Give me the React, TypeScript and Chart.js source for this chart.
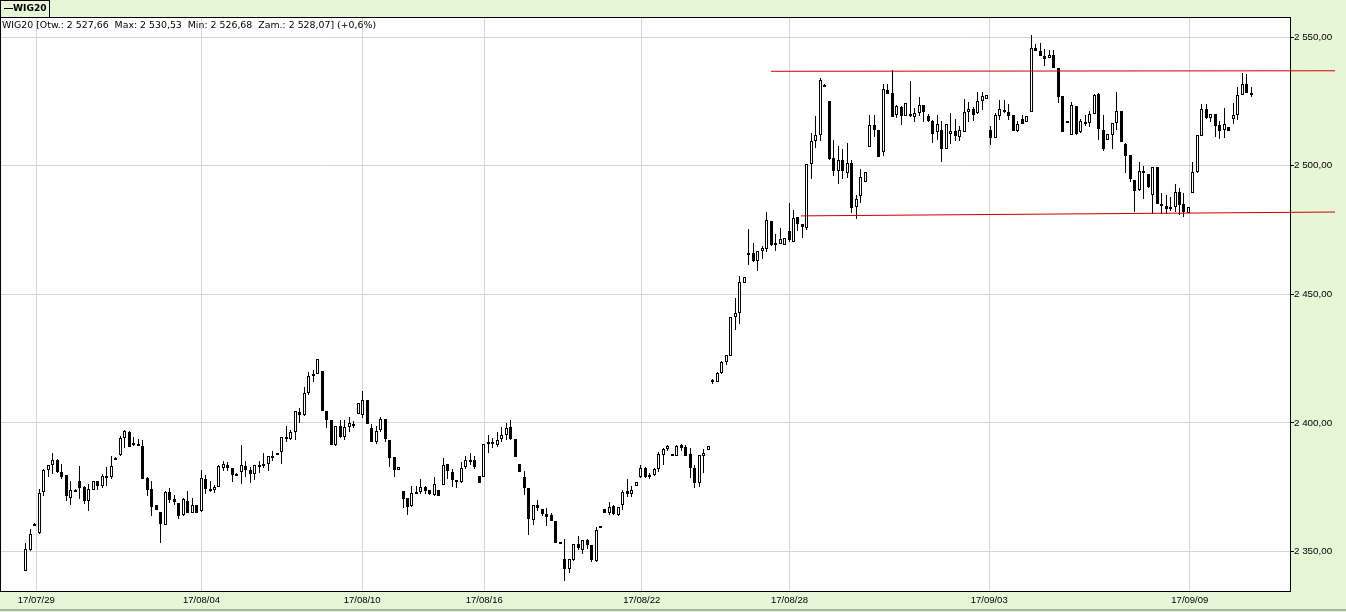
import React, { useEffect, useRef } from "react";
import { Chart, registerables } from "chart.js";

Chart.register(...registerables);

// ---- data (hourly candles, WIG20) ----
const openPrices = [
  2342.5, 2350.8, 2360.9, 2357.1, 2373.3, 2381.8, 2383.7, 2385.8, 2381.1, 2379.6,
  2370.9, 2374.1, 2377.3, 2375.1, 2369.6, 2374.0, 2377.3, 2375.5, 2379.5, 2379.0,
  2386.5, 2387.6, 2394.2, 2396.5, 2391.3, 2392.0, 2391.1, 2378.6, 2374.2, 2368.0,
  2365.5, 2360.5, 2373.3, 2370.3, 2369.0, 2364.2, 2369.8, 2365.2, 2368.0, 2365.6,
  2378.4, 2374.5, 2373.9, 2375.1, 2382.6, 2383.7, 2382.4, 2380.3, 2380.9, 2383.2,
  2381.8, 2380.2, 2383.2, 2383.6, 2384.1, 2387.3, 2388.3, 2388.9, 2394.5, 2393.9,
  2396.4, 2404.1, 2403.2, 2411.5, 2419.0, 2419.0, 2420.2, 2404.6, 2401.2, 2391.3,
  2398.8, 2394.4, 2398.4, 2399.6, 2403.6, 2403.1, 2409.0, 2398.2, 2392.5, 2397.2,
  2401.6, 2393.2, 2386.8, 2381.6, 2373.6, 2370.7, 2367.7, 2372.9, 2373.3, 2375.2,
  2373.8, 2372.0, 2373.8, 2375.8, 2384.1, 2381.0, 2378.0, 2377.0, 2382.8, 2385.4,
  2385.7, 2379.5, 2378.9, 2391.9, 2392.5, 2391.6, 2393.8, 2395.5, 2398.6, 2393.8,
  2384.1, 2379.2, 2374.8, 2362.4, 2368.2, 2366.7, 2364.7, 2364.1, 2362.1, 2353.6,
  2347.0, 2343.3, 2346.6, 2352.8, 2350.5, 2354.4, 2352.6, 2346.4, 2359.0, 2366.4,
  2365.1, 2367.8, 2364.3, 2368.0, 2373.4, 2372.5, 2375.6, 2378.9, 2382.6, 2379.8,
  2379.8, 2382.2, 2387.6, 2389.8, 2387.8, 2387.0, 2391.3, 2390.5, 2388.1, 2382.5,
  2376.7, 2387.3, 2389.4, 2416.6, 2415.8, 2419.3, 2423.8, 2426.2, 2441.1, 2442.9,
  2454.3, 2466.2, 2466.1, 2463.0, 2466.7, 2467.6, 2478.5, 2469.8, 2469.7, 2469.3,
  2474.5, 2470.5, 2480.0, 2477.5, 2475.9, 2500.6, 2509.6, 2511.9, 2531.5, 2525.3,
  2503.1, 2497.9, 2502.3, 2497.3, 2501.2, 2483.9, 2488.3, 2493.8, 2507.3, 2516.0,
  2513.7, 2505.3, 2529.4, 2528.1, 2519.6, 2522.8, 2519.3, 2520.1, 2519.1, 2520.6,
  2523.6, 2519.3, 2517.5, 2513.1, 2513.9, 2506.6, 2512.4, 2513.3, 2511.2, 2513.1,
  2520.9, 2522.0, 2520.5, 2525.1, 2526.0, 2513.7, 2510.8, 2519.3, 2521.6, 2521.0,
  2519.7, 2513.5, 2518.2, 2517.0, 2520.9, 2545.6, 2544.5, 2542.5, 2541.8, 2542.9,
  2537.9, 2527.2, 2516.6, 2512.0, 2523.2, 2513.0, 2517.1, 2516.6, 2520.1, 2527.8,
  2513.9, 2510.0, 2512.0, 2516.6, 2521.3, 2508.5, 2504.3, 2494.6, 2490.7, 2497.8,
  2496.9, 2488.7, 2499.6, 2485.1, 2484.5, 2483.8, 2483.9, 2489.7, 2485.3, 2481.6,
  2489.4, 2497.6, 2511.5, 2522.0, 2518.6, 2520.1, 2515.9, 2513.7, 2515.1, 2518.0,
  2519.7, 2527.4, 2531.8, 2527.66,
];

const highPrices = [
  2353.5, 2358.9, 2361.0, 2374.5, 2382.0, 2383.6, 2388.5, 2386.0, 2383.9, 2379.6,
  2377.3, 2374.2, 2383.1, 2375.5, 2376.4, 2377.6, 2377.6, 2380.0, 2382.8, 2387.2,
  2386.6, 2395.0, 2397.4, 2397.0, 2394.6, 2393.9, 2393.4, 2378.9, 2377.3, 2368.0,
  2365.5, 2373.6, 2374.9, 2372.1, 2369.0, 2370.7, 2373.6, 2370.7, 2368.0, 2381.9,
  2379.9, 2377.3, 2375.8, 2383.5, 2385.4, 2384.8, 2382.4, 2380.4, 2391.4, 2385.3,
  2383.0, 2383.7, 2385.3, 2388.5, 2387.2, 2389.2, 2388.4, 2394.5, 2398.8, 2397.1,
  2404.5, 2406.0, 2414.0, 2419.8, 2420.5, 2424.8, 2420.2, 2404.6, 2401.2, 2398.8,
  2401.2, 2401.2, 2402.3, 2400.6, 2407.9, 2412.5, 2409.0, 2399.7, 2398.8, 2402.3,
  2401.6, 2393.2, 2386.8, 2382.8, 2373.6, 2370.7, 2375.6, 2375.6, 2378.4, 2375.6,
  2374.0, 2379.1, 2373.8, 2386.4, 2384.1, 2382.2, 2378.0, 2385.0, 2387.1, 2388.5,
  2387.1, 2379.5, 2392.0, 2395.3, 2394.1, 2396.5, 2398.6, 2399.9, 2401.2, 2393.8,
  2384.1, 2381.4, 2374.8, 2368.0, 2369.9, 2366.7, 2367.1, 2365.2, 2362.1, 2353.6,
  2354.8, 2347.2, 2353.0, 2356.2, 2354.7, 2354.9, 2352.6, 2359.6, 2360.0, 2366.4,
  2369.3, 2368.1, 2367.4, 2373.9, 2378.3, 2375.5, 2377.1, 2383.6, 2383.0, 2380.7,
  2382.6, 2388.6, 2390.3, 2391.6, 2388.0, 2391.6, 2391.8, 2391.6, 2390.3, 2383.8,
  2387.7, 2389.9, 2390.9, 2417.1, 2419.9, 2424.2, 2426.3, 2441.1, 2448.6, 2457.0,
  2456.6, 2475.4, 2470.0, 2466.7, 2468.8, 2481.9, 2478.5, 2473.3, 2475.7, 2471.8,
  2485.5, 2482.7, 2480.0, 2477.5, 2500.6, 2512.7, 2519.2, 2534.2, 2531.6, 2525.3,
  2509.8, 2507.5, 2506.5, 2508.7, 2502.3, 2488.7, 2498.8, 2497.7, 2519.8, 2519.8,
  2513.7, 2531.7, 2531.7, 2537.2, 2523.5, 2523.2, 2524.4, 2532.9, 2522.3, 2526.7,
  2523.6, 2520.0, 2517.7, 2519.6, 2517.4, 2516.2, 2520.5, 2518.2, 2515.6, 2525.9,
  2524.6, 2522.8, 2528.6, 2528.6, 2527.4, 2515.5, 2520.5, 2525.5, 2525.5, 2524.0,
  2519.7, 2517.4, 2519.7, 2519.3, 2550.8, 2547.2, 2547.6, 2545.4, 2545.0, 2545.0,
  2537.9, 2527.2, 2517.4, 2524.9, 2523.2, 2518.2, 2519.7, 2521.4, 2527.8, 2528.4,
  2519.7, 2512.4, 2516.6, 2528.6, 2521.3, 2508.9, 2504.3, 2494.6, 2501.5, 2500.0,
  2496.9, 2499.4, 2499.6, 2489.2, 2488.7, 2488.0, 2493.0, 2491.4, 2489.2, 2483.8,
  2501.3, 2512.0, 2524.0, 2524.0, 2520.1, 2520.1, 2517.4, 2522.4, 2515.1, 2524.5,
  2530.7, 2536.0, 2535.6, 2530.53,
];

const lowPrices = [
  2342.5, 2350.1, 2360.4, 2356.8, 2371.6, 2378.9, 2380.2, 2380.5, 2378.4, 2369.6,
  2368.0, 2373.9, 2370.3, 2368.6, 2365.6, 2373.8, 2374.0, 2374.9, 2375.5, 2378.2,
  2386.2, 2387.3, 2390.2, 2390.6, 2391.0, 2390.9, 2378.3, 2371.6, 2363.8, 2366.0,
  2353.4, 2360.4, 2368.9, 2368.2, 2362.5, 2364.0, 2364.9, 2365.0, 2365.0, 2365.5,
  2372.5, 2373.1, 2372.9, 2375.0, 2381.5, 2381.5, 2377.0, 2379.9, 2376.3, 2378.9,
  2376.6, 2377.9, 2380.5, 2382.6, 2381.4, 2385.3, 2388.0, 2384.0, 2392.5, 2393.3,
  2393.2, 2400.0, 2402.7, 2410.7, 2416.0, 2419.0, 2404.5, 2397.9, 2391.3, 2391.0,
  2394.2, 2393.2, 2396.4, 2397.9, 2403.6, 2401.9, 2399.7, 2392.5, 2391.7, 2396.5,
  2392.5, 2382.8, 2378.9, 2381.6, 2366.9, 2364.2, 2367.3, 2372.6, 2372.5, 2372.5,
  2372.0, 2371.6, 2371.6, 2375.8, 2378.2, 2375.1, 2374.7, 2376.5, 2382.0, 2383.7,
  2382.0, 2376.6, 2378.9, 2388.2, 2390.3, 2390.8, 2392.8, 2393.4, 2393.2, 2386.6,
  2381.0, 2372.1, 2356.5, 2360.5, 2365.9, 2363.7, 2360.1, 2362.0, 2353.5, 2353.2,
  2338.6, 2341.7, 2346.5, 2350.5, 2349.0, 2351.0, 2346.0, 2345.9, 2359.0, 2365.1,
  2364.3, 2364.3, 2363.8, 2366.1, 2371.4, 2371.4, 2375.6, 2378.8, 2378.8, 2378.3,
  2379.5, 2380.9, 2383.5, 2389.1, 2387.1, 2387.0, 2389.2, 2387.0, 2378.6, 2374.7,
  2375.1, 2380.6, 2389.4, 2415.1, 2415.8, 2419.2, 2422.7, 2426.2, 2436.3, 2438.6,
  2454.3, 2461.4, 2462.6, 2459.2, 2463.7, 2466.3, 2468.7, 2467.0, 2469.4, 2469.3,
  2470.2, 2470.5, 2474.8, 2471.8, 2475.1, 2494.8, 2506.9, 2509.6, 2531.0, 2502.3,
  2495.9, 2492.9, 2494.7, 2495.3, 2481.7, 2479.1, 2485.5, 2493.8, 2507.3, 2511.3,
  2503.4, 2503.6, 2527.7, 2518.8, 2518.4, 2515.7, 2519.3, 2519.0, 2517.1, 2519.3,
  2517.0, 2516.9, 2508.8, 2509.8, 2501.5, 2506.6, 2508.6, 2509.7, 2509.5, 2513.1,
  2516.9, 2517.4, 2520.0, 2521.5, 2526.0, 2508.1, 2510.8, 2517.8, 2520.5, 2517.8,
  2513.5, 2513.1, 2516.2, 2517.0, 2520.9, 2544.5, 2542.8, 2538.7, 2541.8, 2537.8,
  2524.2, 2513.1, 2516.6, 2512.0, 2512.0, 2512.6, 2515.3, 2514.9, 2520.1, 2510.1,
  2505.8, 2510.0, 2506.6, 2513.9, 2509.4, 2497.2, 2493.7, 2482.1, 2490.2, 2487.2,
  2491.5, 2481.1, 2485.2, 2481.4, 2481.4, 2482.5, 2482.1, 2481.0, 2479.9, 2481.6,
  2489.4, 2497.0, 2511.5, 2518.2, 2516.9, 2511.1, 2510.4, 2510.6, 2513.4, 2516.2,
  2517.8, 2527.4, 2528.4, 2526.68,
];

const closePrices = [
  2351.2, 2356.7, 2360.5, 2372.9, 2381.9, 2383.5, 2385.8, 2380.9, 2379.2, 2371.6,
  2374.0, 2374.0, 2374.8, 2369.6, 2374.5, 2377.3, 2375.5, 2379.5, 2379.1, 2383.4,
  2386.3, 2394.2, 2396.9, 2390.8, 2392.2, 2391.0, 2378.3, 2373.8, 2367.3, 2366.2,
  2360.7, 2373.3, 2370.0, 2369.1, 2363.8, 2370.3, 2365.1, 2368.0, 2365.2, 2378.7,
  2374.4, 2373.9, 2375.1, 2383.1, 2384.2, 2382.6, 2379.8, 2380.0, 2383.7, 2381.8,
  2380.1, 2383.7, 2383.7, 2384.1, 2387.2, 2387.1, 2388.1, 2394.5, 2394.0, 2396.4,
  2404.5, 2403.2, 2411.5, 2418.1, 2418.5, 2424.8, 2404.5, 2401.0, 2391.3, 2398.8,
  2394.4, 2398.4, 2400.0, 2398.7, 2407.9, 2408.9, 2399.7, 2392.5, 2396.9, 2401.6,
  2393.8, 2386.4, 2381.9, 2382.8, 2370.4, 2367.3, 2372.9, 2373.1, 2375.2, 2373.5,
  2372.5, 2376.4, 2371.6, 2383.7, 2381.3, 2377.8, 2376.9, 2382.6, 2385.7, 2385.8,
  2382.9, 2376.6, 2392.0, 2392.8, 2391.9, 2393.4, 2395.3, 2398.2, 2393.8, 2386.6,
  2381.0, 2374.8, 2362.7, 2368.0, 2366.8, 2364.6, 2363.4, 2362.0, 2353.5, 2353.3,
  2343.3, 2347.0, 2353.0, 2351.3, 2354.4, 2352.7, 2346.8, 2358.3, 2360.0, 2365.1,
  2367.4, 2364.7, 2367.4, 2373.0, 2372.5, 2373.8, 2377.1, 2382.6, 2378.9, 2379.3,
  2382.2, 2387.9, 2389.9, 2391.1, 2387.3, 2391.2, 2390.3, 2387.3, 2382.5, 2376.7,
  2387.7, 2388.3, 2390.9, 2415.8, 2419.4, 2423.9, 2426.3, 2441.1, 2442.6, 2454.7,
  2456.6, 2465.7, 2463.0, 2466.7, 2468.1, 2478.8, 2469.3, 2469.3, 2471.4, 2471.8,
  2471.1, 2479.5, 2477.2, 2476.2, 2500.6, 2509.6, 2511.9, 2533.4, 2531.1, 2502.6,
  2497.9, 2502.3, 2498.1, 2501.2, 2483.5, 2487.2, 2495.7, 2497.7, 2515.9, 2513.7,
  2503.4, 2529.8, 2527.7, 2518.8, 2523.2, 2519.3, 2524.4, 2519.3, 2520.5, 2523.6,
  2520.9, 2517.4, 2512.4, 2516.2, 2506.6, 2516.2, 2513.3, 2511.5, 2513.7, 2520.9,
  2522.0, 2519.8, 2525.1, 2527.1, 2527.4, 2510.8, 2519.7, 2522.0, 2520.9, 2519.3,
  2513.5, 2516.2, 2516.2, 2519.3, 2545.6, 2544.5, 2542.8, 2541.5, 2542.9, 2537.8,
  2526.8, 2513.1, 2517.4, 2523.6, 2512.4, 2517.5, 2516.6, 2520.1, 2527.4, 2514.2,
  2506.6, 2512.4, 2516.6, 2521.3, 2509.4, 2503.7, 2494.8, 2490.2, 2498.1, 2497.6,
  2491.8, 2499.4, 2485.2, 2484.5, 2483.2, 2483.2, 2489.6, 2484.8, 2482.1, 2483.8,
  2497.7, 2512.0, 2522.0, 2518.4, 2520.1, 2515.3, 2513.4, 2516.2, 2513.4, 2519.7,
  2527.4, 2531.8, 2528.4, 2528.07,
];

// date labels sit at these candle positions
const dateTickPositions = [2.3, 39.1, 74.9, 102.1, 137.2, 170.1, 214.6, 259.3];
const dateTickLabels = [
  "17/07/29", "17/08/04", "17/08/10", "17/08/16",
  "17/08/22", "17/08/28", "17/09/03", "17/09/09",
];
const priceTicks = [2350, 2400, 2450, 2500, 2550];

// hand-drawn trend lines (candle index, price)
const resistanceLine = [
  { x: 166.0, y: 2536.7 },
  { x: 291.65, y: 2536.9 },
];
const supportLine = [
  { x: 172.7, y: 2480.5 },
  { x: 291.65, y: 2482.0 },
];
const changeText = "+0,6%";

// ---- helpers ----
function formatPrice(v: number): string {
  const [intPart, dec] = v.toFixed(2).split(".");
  return intPart.replace(/\B(?=(\d{3})+(?!\d))/g, " ") + "," + dec;
}

const X_MIN = -5.79;
const X_MAX = 281.62;
const Y_MIN = 2334.7;
const Y_MAX = 2557.8;

const GREEN = "#e6f6d6";

const areaPlugin = {
  id: "areaFrame",
  beforeDraw(chart: any) {
    const { ctx, chartArea: a } = chart;
    ctx.save();
    ctx.fillStyle = "#ffffff";
    ctx.fillRect(a.left, a.top, a.right - a.left, a.bottom - a.top);
    ctx.restore();
  },
  afterDraw(chart: any) {
    const { ctx, chartArea: a } = chart;
    ctx.save();
    ctx.strokeStyle = "#000000";
    ctx.lineWidth = 1;
    ctx.strokeRect(a.left + 0.5, a.top + 0.5, a.right - a.left, a.bottom - a.top);
    ctx.restore();
  },
};

const snapPlugin = {
  id: "snapBars",
  beforeDatasetsDraw(chart: any) {
    chart.data.datasets.forEach((ds: any, di: number) => {
      const meta = chart.getDatasetMeta(di);
      if (meta.type !== "bar") return;
      const minH = ds.label === "body" ? 2 : 1;
      meta.data.forEach((el: any) => {
        const cx = Math.floor(el.x) + 0.5;
        const top = Math.round(Math.min(el.y, el.base));
        let bot = Math.round(Math.max(el.y, el.base));
        if (bot - top < minH) bot = top + minH;
        el.x = cx;
        el.y = top;
        el.base = bot;
      });
    });
  },
};

export default function App() {
  const canvasRef = useRef<HTMLCanvasElement | null>(null);

  useEffect(() => {
    const canvas = canvasRef.current;
    if (!canvas) return;
    const idx = openPrices.map((_, i) => i);
    const chart = new Chart(canvas, {
      type: "bar",
      data: {
        datasets: [
          {
            type: "line",
            label: "resistance",
            data: resistanceLine,
            borderColor: "#cc0000",
            borderWidth: 1,
            pointRadius: 0,
            tension: 0,
            clip: false,
            order: 0,
          } as any,
          {
            type: "line",
            label: "support",
            data: supportLine,
            borderColor: "#cc0000",
            borderWidth: 1,
            pointRadius: 0,
            tension: 0,
            clip: false,
            order: 0,
          } as any,
          {
            type: "bar",
            label: "body",
            data: idx.map((i) => ({ x: i, y: [openPrices[i], closePrices[i]] })),
            backgroundColor: idx.map((i) =>
              closePrices[i] >= openPrices[i] ? "#ffffff" : "#000000"
            ),
            borderColor: "#000000",
            borderWidth: 1,
            borderSkipped: false,
            barThickness: 3,
            grouped: false,
            inflateAmount: 0,
            order: 1,
          } as any,
          {
            type: "bar",
            label: "wick",
            data: idx.map((i) => ({ x: i, y: [lowPrices[i], highPrices[i]] })),
            backgroundColor: "#000000",
            borderWidth: 0,
            barThickness: 1,
            grouped: false,
            inflateAmount: 0,
            order: 2,
          } as any,
        ],
      },
      options: {
        responsive: false,
        animation: false,
        devicePixelRatio: 1,
        layout: { padding: { top: 17, left: 0, right: 0, bottom: 0 } },
        plugins: {
          legend: { display: false },
          tooltip: { enabled: false },
          title: { display: false },
        },
        scales: {
          x: {
            type: "linear",
            min: X_MIN,
            max: X_MAX,
            offset: false,
            grid: { color: "#d6d6d6", lineWidth: 1, drawTicks: false, offset: false },
            border: { display: false },
            afterBuildTicks: (scale: any) => {
              scale.ticks = dateTickPositions.map((v) => ({ value: v }));
            },
            afterFit: (scale: any) => {
              scale.height = 21;
            },
            ticks: {
              autoSkip: false,
              maxRotation: 0,
              minRotation: 0,
              padding: 4,
              color: "#000000",
              font: { family: "'Liberation Sans', Arial, sans-serif", size: 9.5 },
              callback: (_v: any, i: number) => dateTickLabels[i] ?? "",
            },
          },
          y: {
            type: "linear",
            position: "right",
            min: Y_MIN,
            max: Y_MAX,
            grid: { color: "#d6d6d6", lineWidth: 1, tickColor: "#000000", tickLength: 4, drawTicks: true },
            border: { display: false },
            afterBuildTicks: (scale: any) => {
              scale.ticks = priceTicks.map((v) => ({ value: v }));
            },
            afterFit: (scale: any) => {
              scale.width = 56;
            },
            ticks: {
              padding: 0,
              color: "#000000",
              font: { family: "'Liberation Sans', Arial, sans-serif", size: 9.8 },
              callback: (v: any) => formatPrice(Number(v)),
            },
          },
        },
      } as any,
      plugins: [areaPlugin, snapPlugin],
    });
    return () => chart.destroy();
  }, []);

  const last = openPrices.length - 1;
  const info =
    `WIG20 [Otw.: ${formatPrice(openPrices[last])}  Max: ${formatPrice(highPrices[last])}  ` +
    `Min: ${formatPrice(lowPrices[last])}  Zam.: ${formatPrice(closePrices[last])}] (${changeText})`;

  return (
    <div
      style={{
        position: "fixed",
        left: 0,
        top: 0,
        width: 1346,
        height: 612,
        background: GREEN,
        overflow: "hidden",
      }}
    >
      <canvas
        ref={canvasRef}
        width={1346}
        height={612}
        style={{ position: "absolute", left: 0, top: 0, width: 1346, height: 612 }}
      />
      <div
        style={{
          position: "absolute",
          left: 0,
          top: 0,
          width: 50,
          height: 18,
          boxSizing: "border-box",
          border: "1px solid #000",
          background: GREEN,
        }}
      >
        <div style={{ position: "absolute", left: 3, top: 7, width: 9, height: 1, background: "#000" }} />
        <span
          style={{
            position: "absolute",
            left: 12,
            top: 2,
            font: "bold 9.1px 'DejaVu Sans', sans-serif",
            lineHeight: "11px",
            color: "#000",
            whiteSpace: "pre",
          }}
        >
          WIG20
        </span>
      </div>
      <div
        style={{
          position: "absolute",
          left: 2,
          top: 19,
          font: "9.4px 'DejaVu Sans', sans-serif",
          lineHeight: "12px",
          color: "#000",
          whiteSpace: "pre",
        }}
      >
        {info}
      </div>
      <div
        style={{
          position: "absolute",
          left: 0,
          top: 609,
          width: 1346,
          height: 2,
          background: "#a4b8a0",
        }}
      />
    </div>
  );
}
